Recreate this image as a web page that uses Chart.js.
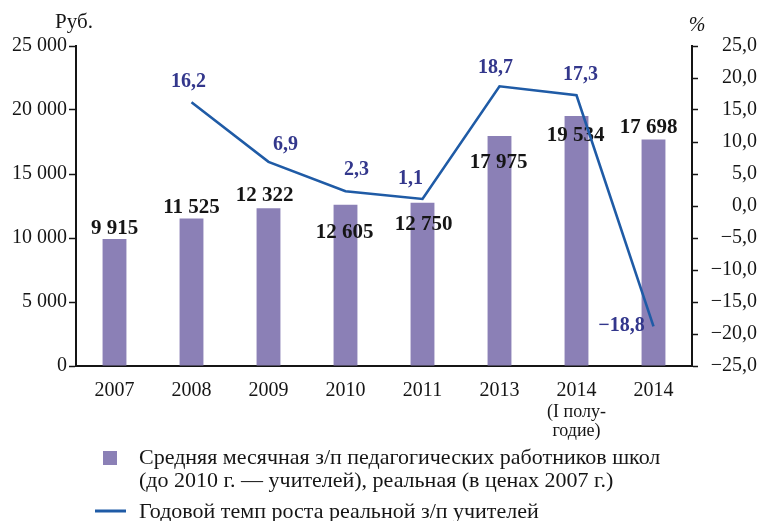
<!DOCTYPE html>
<html>
<head>
<meta charset="utf-8">
<script src="https://cdn.jsdelivr.net/npm/chart.js@4.4.1/dist/chart.umd.min.js"></script>
<style>
html,body{margin:0;padding:0;background:#fff;}
#wrap{width:762px;height:521px;position:relative;}
</style>
</head>
<body>
<div id="wrap"><canvas id="c" width="762" height="521"></canvas></div>
<script>
// ---- data ----
const categories = ['2007', '2008', '2009', '2010', '2011', '2013', ['2014', '(I полу-', 'годие)'], '2014'];
const salary = [9915, 11525, 12322, 12605, 12750, 17975, 19534, 17698];
const growth = [null, 16.2, 6.9, 2.3, 1.1, 18.7, 17.3, -18.8];
const salaryLegend = ['Средняя месячная з/п педагогических работников школ', '(до 2010 г. — учителей), реальная (в ценах 2007 г.)'];
const growthLegend = 'Годовой темп роста реальной з/п учителей';
const leftUnit = 'Руб.';
const rightUnit = '%';

// ---- label placement (styles, not data) ----
const barLabelOffsets = [[0,-11],[0,-11],[-4,-13],[-1,28],[1,22],[-1,27],[-1,20],[-5,-12]];
const lineLabelOffsets = [null,[-3,-20],[17,-17],[11,-21],[-12,-20],[-4,-18],[4,-20],[-32,0]];

const BAR_COLOR = '#8b80b6';
const LINE_COLOR = '#1f5ba6';
const LINE_LABEL_COLOR = '#33378c';
const TEXT = '#151515';
const FONT = "'Liberation Serif', 'Times New Roman', serif";

function fmtThousands(v){ return String(Math.round(v)).replace(/\B(?=(\d{3})+(?!\d))/g, ' '); }
function fmtPct(v){ const s = Math.abs(v).toFixed(1).replace('.', ','); return (v < 0 ? '\u2212' : '') + s; }
function mainLabel(c){ return Array.isArray(c) ? c[0] : c; }

Chart.defaults.font.family = FONT;
Chart.defaults.color = TEXT;

const labelsPlugin = {
  id: 'customLabels',
  afterDatasetDraw(chart, args) {
    const ctx = chart.ctx;
    if (args.index === 0) {
      const meta = chart.getDatasetMeta(0);
      ctx.save();
      ctx.font = 'bold 21px ' + FONT;
      ctx.fillStyle = TEXT;
      ctx.textAlign = 'center';
      ctx.textBaseline = 'middle';
      meta.data.forEach((el, i) => {
        const o = barLabelOffsets[i];
        ctx.fillText(fmtThousands(salary[i]), el.x + o[0], el.y + o[1]);
      });
      ctx.restore();
    }
  },
  afterDatasetsDraw(chart) {
    const ctx = chart.ctx;
    const meta = chart.getDatasetMeta(1);
    ctx.save();
    ctx.font = 'bold 20px ' + FONT;
    ctx.fillStyle = LINE_LABEL_COLOR;
    ctx.textAlign = 'center';
    ctx.textBaseline = 'middle';
    meta.data.forEach((el, i) => {
      if (growth[i] === null) return;
      const o = lineLabelOffsets[i];
      ctx.fillText(fmtPct(growth[i]), el.x + o[0], el.y + o[1]);
    });
    ctx.restore();
  },
  afterDraw(chart) {
    const ctx = chart.ctx;
    const a = chart.chartArea;
    const xs = chart.scales.x;
    ctx.save();
    // secondary lines of multi-line category labels
    ctx.fillStyle = TEXT;
    ctx.font = '18px ' + FONT;
    ctx.textAlign = 'center';
    ctx.textBaseline = 'middle';
    categories.forEach((c, i) => {
      if (!Array.isArray(c)) return;
      const x = xs.getPixelForValue(i);
      c.slice(1).forEach((line, k) => ctx.fillText(line, x, a.bottom + 46 + k * 19));
    });
    // unit titles
    ctx.font = '21px ' + FONT;
    ctx.fillText(leftUnit, a.left - 2, a.top - 24);
    ctx.font = 'italic 20px ' + FONT;
    ctx.fillText(rightUnit, a.right + 5, a.top - 20);
    // legend
    const lx = a.left;
    const by = a.bottom;
    ctx.fillStyle = BAR_COLOR;
    ctx.fillRect(lx + 27, by + 85, 14, 14);
    ctx.strokeStyle = LINE_COLOR;
    ctx.lineWidth = 3;
    ctx.beginPath();
    ctx.moveTo(lx + 19, by + 145);
    ctx.lineTo(lx + 50, by + 145);
    ctx.stroke();
    ctx.fillStyle = TEXT;
    ctx.font = '22px ' + FONT;
    ctx.textAlign = 'left';
    ctx.textBaseline = 'middle';
    ctx.fillText(salaryLegend[0], lx + 63, by + 92);
    ctx.fillText(salaryLegend[1], lx + 63, by + 115);
    ctx.fillText(growthLegend, lx + 63, by + 146);
    ctx.restore();
  }
};

new Chart(document.getElementById('c'), {
  type: 'bar',
  data: {
    labels: categories,
    datasets: [
      {
        type: 'bar',
        label: salaryLegend.join(' '),
        data: salary,
        backgroundColor: BAR_COLOR,
        yAxisID: 'y',
        barPercentage: 0.31,
        categoryPercentage: 1.0,
        order: 1
      },
      {
        type: 'line',
        label: growthLegend,
        data: growth,
        borderColor: LINE_COLOR,
        borderWidth: 2.6,
        pointRadius: 0,
        tension: 0,
        fill: false,
        yAxisID: 'y1',
        order: 0
      }
    ]
  },
  options: {
    responsive: false,
    devicePixelRatio: 1,
    animation: false,
    events: [],
    layout: { padding: { top: 46, left: 0, right: 5, bottom: 0 } },
    plugins: { legend: { display: false }, tooltip: { enabled: false }, title: { display: false } },
    scales: {
      x: {
        offset: true,
        grid: { display: true, drawOnChartArea: false, drawTicks: false },
        border: { display: true, color: TEXT, width: 2 },
        ticks: { color: TEXT, font: { size: 20 }, padding: 13, maxRotation: 0, autoSkip: false,
                 callback: (v, i) => mainLabel(categories[i]) },
        afterFit(s) { s.height = 155; }
      },
      y: {
        position: 'left',
        min: 0, max: 25000,
        ticks: { stepSize: 5000, color: TEXT, font: { size: 20 }, padding: 2, callback: v => fmtThousands(v) },
        grid: { display: true, drawOnChartArea: false, drawTicks: true, tickLength: 7, tickColor: TEXT, tickWidth: 1.5 },
        border: { display: true, color: TEXT, width: 2 },
        afterFit(s) { s.width = 76; }
      },
      y1: {
        position: 'right',
        min: -25, max: 25,
        ticks: { stepSize: 5, color: TEXT, font: { size: 20 }, padding: 4, crossAlign: 'far', callback: v => fmtPct(v) },
        grid: { display: true, drawOnChartArea: false, drawTicks: true, tickLength: 6, tickColor: TEXT, tickWidth: 1.5 },
        border: { display: true, color: TEXT, width: 2 },
        afterFit(s) { s.width = 65; }
      }
    }
  },
  plugins: [labelsPlugin]
});
</script>
</body>
</html>
